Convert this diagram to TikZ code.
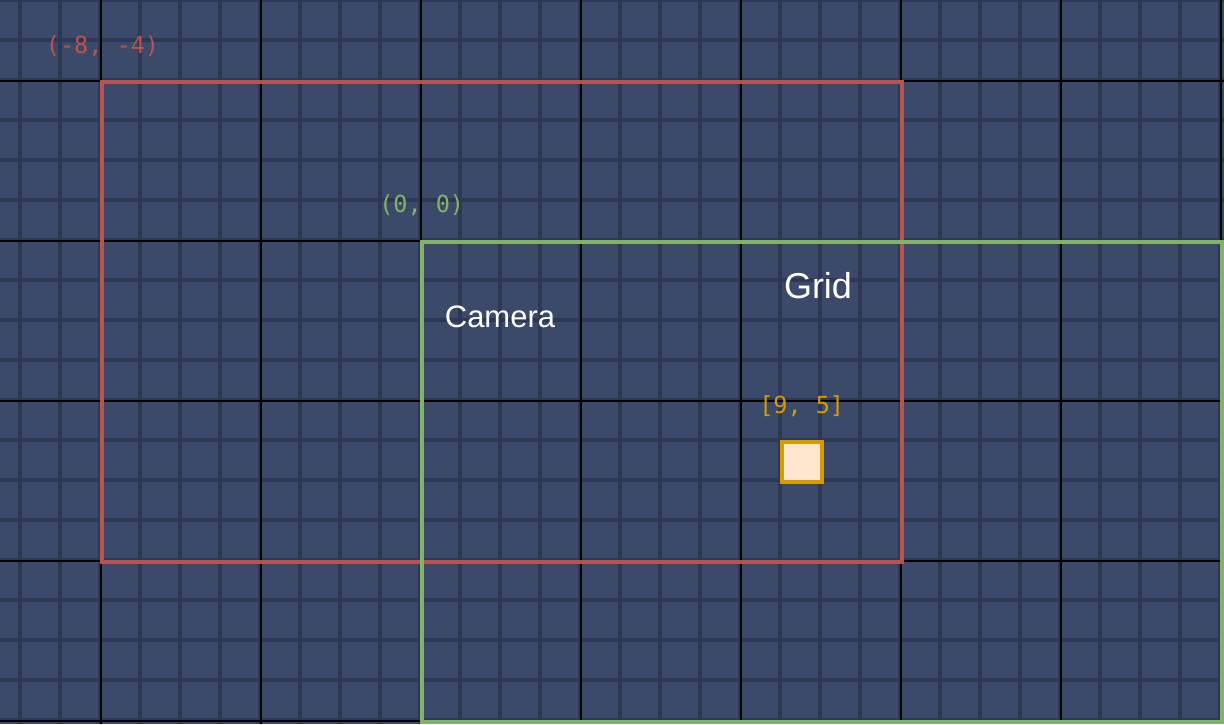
\documentclass[tikz,border=0pt]{standalone}
\usepackage{fontspec}
\setmainfont{Liberation Sans}
\newfontfamily\monofont{DejaVu Sans Mono}
\definecolor{cellbg}{HTML}{3B4A6B}
\definecolor{minorline}{HTML}{2E3852}
\definecolor{redc}{HTML}{B85450}
\definecolor{greenc}{HTML}{82B366}
\definecolor{orangec}{HTML}{D79B00}
\definecolor{orangefill}{HTML}{FFE6CC}
\tikzset{
  minorgrid/.style={draw=minorline, line width=4pt},
  majorgrid/.style={draw=black, line width=2pt},
  framebox/.style={line width=4pt},
  monolabel/.style={anchor=base, inner sep=0pt, font=\monofont\fontsize{23.5}{23.5}\selectfont},
  titlelabel/.style={anchor=base, inner sep=0pt, text=white},
}
\begin{document}
\begin{tikzpicture}[x=1pt,y=-1pt]
\useasboundingbox (0,0) rectangle (1224,724);
\fill[cellbg] (0,0) rectangle (1224,724);
\foreach \x in {20,60,...,1220} \draw[minorgrid] (\x,0) -- (\x,724);
\foreach \y in {0,40,...,720} \draw[minorgrid] (0,\y) -- (1224,\y);
\foreach \x in {101,261,...,1221} \draw[majorgrid] (\x,0) -- (\x,724);
\foreach \y in {81,241,...,721} \draw[majorgrid] (0,\y) -- (1224,\y);
% camera (red) and grid (green) frames
\draw[framebox, redc] (102,82) rectangle (902,562);
\draw[framebox, greenc] (422,242) rectangle (1222,722);
% selected cell
\node[draw=orangec, fill=orangefill, line width=4pt, minimum size=40pt, inner sep=0pt] (cell) at (802,462) {};
% labels
\node[monolabel, text=redc] (camorigin) at (102.5,53) {(-8, -4)};
\node[monolabel, text=greenc] (gridorigin) at (421.7,212) {(0, 0)};
\node[monolabel, text=orangec] (cellidx) at (801.7,413) {[9, 5]};
\node[titlelabel, font=\fontsize{31}{31}\selectfont] (camlabel) at (500,327) {Camera};
\node[titlelabel, font=\fontsize{36}{36}\selectfont] (gridlabel) at (818,298) {Grid};
\end{tikzpicture}
\end{document}
